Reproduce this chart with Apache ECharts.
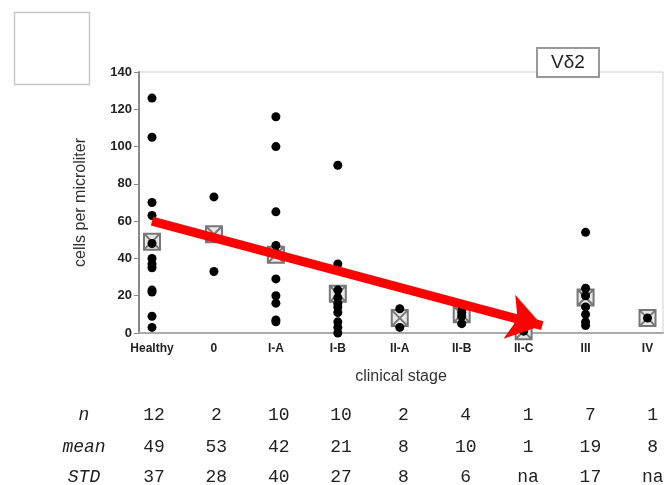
<!DOCTYPE html>
<html><head><meta charset="utf-8">
<script src="https://cdn.jsdelivr.net/npm/echarts@6/dist/echarts.min.js"></script>
<style>html,body{margin:0;padding:0;background:#fff}#c{width:669px;height:485px}</style>
</head><body><div id="c"></div>
<script>
const categories = ['Healthy','0','I-A','I-B','II-A','II-B','II-C','III','IV'];
const ptsHealthy = [126,105,70,63,48,40,37,35,23,22,9,3];
const pts0 = [73,33];
const ptsIA = [116,100,65,47,43,29,20,16,7,6];
const ptsIB = [90,37,23,19,16,14,11,6,3,0];
const ptsIIA = [13,3];
const ptsIIB = [14,11,9,5];
const ptsIIC = [1];
const ptsIII = [54,24,20,14,10,6,4];
const ptsIV = [8];
const nRow = [12,2,10,10,2,4,1,7,1];
const meanRow = [49,53,42,21,8,10,1,19,8];
const stdRow = ['37','28','40','27','8','6','na','17','na'];
const arrowStart = [0,60];
const arrowEnd = [6.3,4];
const yTicks = [0,20,40,60,80,100,120,140];

const groups = [ptsHealthy,pts0,ptsIA,ptsIB,ptsIIA,ptsIIB,ptsIIC,ptsIII,ptsIV];
const dots = [];
groups.forEach((g,i)=>g.forEach(v=>dots.push([i,v])));
const means = meanRow.map((v,i)=>[i,v]);

const chart = echarts.init(document.getElementById('c'));
const idx = categories.map((_,i)=>i);
chart.setOption({
  animation:false,
  grid:{left:139,right:6,top:72,bottom:152,show:true,borderColor:'#d0d0d0',borderWidth:1},
  title:{text:'V\u03b42',left:537,top:48,padding:[5,14,5,14],borderColor:'#999',borderWidth:2,backgroundColor:'#fff',
    textStyle:{fontFamily:'Liberation Sans, Arial',fontSize:19,fontWeight:'normal',color:'#222'}},
  xAxis:{type:'value',min:-0.21,max:8.25,
    axisLine:{show:true,onZero:false,lineStyle:{color:'#aaa',width:2}},axisTick:{show:false},splitLine:{show:false},
    axisLabel:{customValues:idx,formatter:v=>categories[Math.round(v)],fontFamily:'Liberation Sans, Arial',fontWeight:'bold',fontSize:12,color:'#222',margin:10},
    name:'clinical stage',nameLocation:'middle',nameGap:36,nameTextStyle:{fontFamily:'Liberation Sans, Arial',fontSize:16,color:'#333'}},
  yAxis:{type:'value',min:0,max:140,interval:20,
    axisLine:{show:true,onZero:false,lineStyle:{color:'#888',width:2}},axisTick:{show:true,length:5,lineStyle:{color:'#888'}},splitLine:{show:false},
    axisLabel:{customValues:yTicks,fontFamily:'Liberation Sans, Arial',fontWeight:'bold',fontSize:13,color:'#222',margin:7},
    name:'cells per microliter',nameLocation:'middle',nameGap:50,nameTextStyle:{fontFamily:'Liberation Sans, Arial',fontSize:16,color:'#333'}},
  series:[
    {type:'scatter',data:means,symbol:'path://M0,0 L10,0 L10,10 L0,10 Z M0,0 L10,10 M10,0 L0,10',symbolSize:16,
      itemStyle:{color:'#e8e8e8',borderColor:'#777',borderWidth:2,opacity:1},z:2},
    {type:'scatter',data:dots,symbol:'circle',symbolSize:9,itemStyle:{color:'#000',opacity:1},z:3},
    {type:'line',data:[],z:5,markLine:{silent:true,symbol:['none','arrow'],symbolSize:[34,34],
      lineStyle:{color:'#ff0000',width:9,type:'solid',opacity:1},label:{show:false},
      data:[[{coord:arrowStart},{coord:arrowEnd}]]}}
  ]
});

// table below the chart
const mono = 'Liberation Mono, DejaVu Sans Mono, monospace';
const rows = [['n',nRow,415],['mean',meanRow,447],['STD',stdRow,477]];
const g = [{type:'rect',left:12,top:10,shape:{width:75,height:72},style:{fill:'none',stroke:'#c8c8c8',lineWidth:1.5}}];
rows.forEach(([lab,vals,y])=>{
  g.push({type:'text',x:84,y:y,style:{text:lab,font:'italic 18px '+mono,fill:'#222',align:'center',verticalAlign:'middle'}});
  vals.forEach((v,i)=>{
    const px = chart.convertToPixel({xAxisIndex:0},i) + 2 + i*0.4;
    g.push({type:'text',x:px,y:y,style:{text:String(v),font:'18px '+mono,fill:'#222',align:'center',verticalAlign:'middle'}});
  });
});
chart.setOption({graphic:g});
</script></body></html>
